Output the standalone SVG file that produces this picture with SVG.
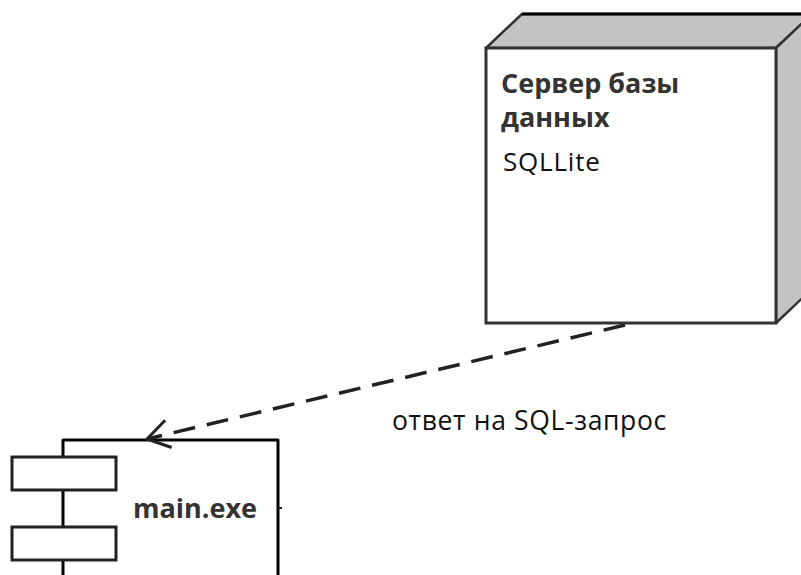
<svg xmlns="http://www.w3.org/2000/svg" width="801" height="575" viewBox="0 0 801 575">
<defs>
<style>
.ln{stroke:#000;stroke-width:3;stroke-linejoin:round;}
.gray{fill:#c3c3c3;stroke:#333;stroke-width:2.5;stroke-linejoin:round;}
.face{fill:#fff;stroke:#333;stroke-width:3;}
.b{font-family:"Open Sans","Liberation Sans",sans-serif;font-weight:bold;fill:#333;}
.r{font-family:"Open Sans","Liberation Sans",sans-serif;fill:#111;}
</style>
<marker id="open" markerWidth="34" markerHeight="40" refX="24" refY="16" orient="auto" markerUnits="userSpaceOnUse">
<path d="M2,2 L24,16 L2,30" fill="none" stroke="#222" stroke-width="3"/>
</marker>
</defs>
<rect width="801" height="575" fill="#fff"/>
<g id="db-server">
<polygon class="gray" points="486,48 522,14 812,14 776,48"/>
<polygon class="gray" points="776,48 812,14 812,289 776,323"/>
<line x1="522" y1="14" x2="801" y2="14" stroke="#000" stroke-width="3"/>
<rect class="face" x="486" y="48" width="290" height="275"/>
<text class="b" x="501" y="93" font-size="27">Сервер базы</text>
<text class="b" x="501" y="127" font-size="27">данных</text>
<text class="r" x="503" y="171" font-size="26" letter-spacing="0.8">SQLLite</text>
</g>
<g id="main-exe">
<path class="ln" fill="none" stroke="#222" d="M63,575 L63,440 L278,440 L278,575"/>
<line x1="278" y1="508" x2="282" y2="508" stroke="#222" stroke-width="2"/>
<rect x="12" y="457" width="104" height="33" fill="#fff" stroke="#222" stroke-width="3"/>
<rect x="12" y="527" width="104" height="33" fill="#fff" stroke="#222" stroke-width="3"/>
<text class="b" x="133" y="518" font-size="27">main.exe</text>
</g>
<g id="connectors">
<line x1="625" y1="325" x2="147" y2="439" stroke="#222" stroke-width="3.5" stroke-dasharray="22,12" marker-end="url(#open)"/>
<text class="r" x="392" y="430" font-size="26.5" letter-spacing="0.65">ответ на SQL-запрос</text>
</g>
</svg>
